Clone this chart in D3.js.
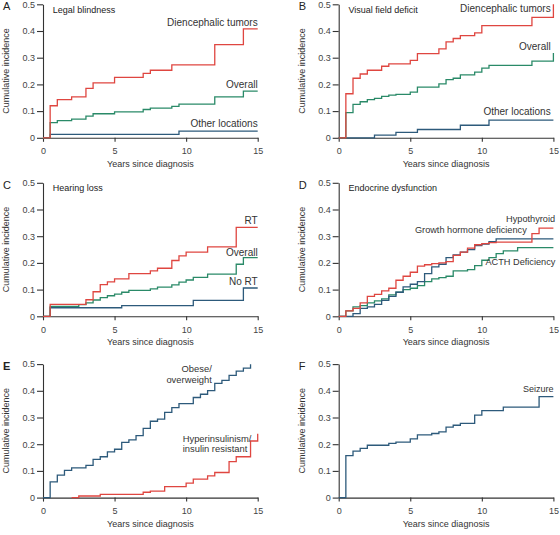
<!DOCTYPE html>
<html>
<head>
<meta charset="utf-8">
<script src="https://cdn.jsdelivr.net/npm/d3@7"></script>
<style>
  html, body { margin: 0; padding: 0; background: #fff; }
  svg { display: block; font-family: "Liberation Sans", Arial, sans-serif; }
</style>
</head>
<body>
<svg id="chart" width="560" height="535"></svg>
<script>
// ---------------- DATA (years since diagnosis, cumulative incidence) ----------------
const xTicks = [0, 5, 10, 15];
const yTicks = [0, 0.1, 0.2, 0.3, 0.4, 0.5];
const yTickLabels = ["0", "0.1", "0.2", "0.3", "0.4", "0.5"];
const panelLetters = ["A", "B", "C", "D", "E", "F"];
const panelTitles = ["Legal blindness", "Visual field deficit", "Hearing loss", "Endocrine dysfunction", "", ""];

// A: Legal blindness
const legalDien = [[0,0],[0.5,0.12],[1,0.143],[2,0.153],[3,0.185],[3.5,0.206],[5,0.226],[7,0.241],[7.5,0.253],[9,0.273],[12,0.349],[14,0.408],[15,0.408]];
const legalOverall = [[0,0],[0.5,0.057],[1,0.064],[2,0.07],[3,0.081],[3.5,0.09],[5,0.097],[7,0.106],[7.5,0.111],[9,0.118],[9.5,0.126],[12,0.153],[14,0.175],[15,0.175]];
const legalOther = [[0,0],[0.5,0.0125],[9.5,0.025],[15,0.025]];

// B: Visual field deficit
const visualDien = [[0,0],[0.5,0.165],[1,0.223],[1.5,0.239],[2,0.253],[3,0.268],[3.5,0.277],[5,0.29],[5.5,0.315],[7,0.333],[7.5,0.359],[8,0.372],[8.5,0.383],[9.5,0.393],[10,0.42],[13.5,0.451],[15,0.5]];
const visualOverall = [[0,0],[0.5,0.094],[1,0.125],[1.5,0.135],[2,0.143],[2.5,0.148],[3,0.155],[3.5,0.16],[4,0.163],[5,0.171],[5.5,0.19],[7,0.202],[7.5,0.218],[8,0.223],[8.5,0.236],[9.5,0.246],[10,0.261],[10.5,0.271],[13.5,0.287],[15,0.318]];
const visualOther = [[0,0],[2.5,0.01],[4,0.02],[5.5,0.031],[8.5,0.047],[10.5,0.066],[15,0.066]];

// C: Hearing loss
const hearingRT = [[0,0],[0.5,0.045],[3,0.062],[3.5,0.092],[4,0.119],[4.5,0.129],[5,0.14],[6,0.16],[7.5,0.17],[8,0.18],[9,0.209],[9.5,0.226],[10,0.24],[11.5,0.26],[13.5,0.333],[15,0.333]];
const hearingOverall = [[0,0],[0.5,0.037],[2.5,0.044],[3,0.05],[3.5,0.061],[4,0.07],[4.5,0.077],[5,0.083],[5.5,0.09],[6,0.097],[7.5,0.103],[8,0.109],[9,0.118],[9.5,0.128],[10,0.136],[10.5,0.146],[11.5,0.158],[13.5,0.195],[14,0.22],[15,0.22]];
const hearingNoRT = [[0,0],[0.5,0.032],[5.5,0.04],[10.5,0.06],[14,0.106],[15,0.106]];

// D: Endocrine dysfunction
const endoHypo = [[0,0],[0.5,0.02],[1,0.03],[1.5,0.05],[2,0.075],[2.5,0.082],[3,0.095],[3.5,0.105],[4,0.135],[4.5,0.15],[5,0.165],[5.5,0.188],[6,0.193],[6.5,0.197],[7,0.2],[7.5,0.205],[8,0.228],[8.5,0.24],[9,0.255],[9.5,0.268],[10,0.272],[10.5,0.276],[11,0.278],[13.5,0.31],[14,0.33],[15,0.33]];
const endoGH = [[0,0],[1,0.01],[1.5,0.03],[2,0.035],[2.5,0.045],[3,0.06],[3.5,0.075],[4,0.09],[4.5,0.11],[5,0.12],[5.5,0.13],[6,0.16],[6.5,0.185],[7,0.195],[7.5,0.22],[8,0.23],[8.5,0.24],[9,0.25],[9.5,0.265],[10,0.27],[10.5,0.28],[11,0.29],[15,0.29]];
const endoACTH = [[0,0],[0.5,0.02],[1,0.035],[1.5,0.04],[2,0.05],[2.5,0.058],[3,0.065],[3.5,0.08],[4,0.09],[4.5,0.1],[5,0.105],[5.5,0.115],[6,0.13],[6.5,0.14],[7,0.145],[7.5,0.15],[8,0.17],[9,0.175],[9.5,0.19],[10,0.21],[10.5,0.22],[11,0.235],[11.5,0.245],[12.5,0.257],[15,0.257]];

// E: Obesity / hyperinsulinism
const obese = [[0,0],[0.5,0.059],[1,0.084],[1.5,0.102],[2,0.111],[3,0.121],[3.5,0.143],[4,0.153],[4.5,0.171],[5,0.181],[5.5,0.207],[6,0.216],[6.5,0.232],[7,0.259],[7.5,0.286],[8,0.294],[8.5,0.319],[9,0.337],[9.5,0.352],[10.5,0.375],[11,0.387],[11.5,0.401],[12,0.428],[12.5,0.439],[13,0.458],[13.5,0.474],[14,0.485],[14.5,0.499]];
const hyperins = [[2,0],[2.5,0.006],[4,0.012],[7,0.02],[7.5,0.024],[8.5,0.041],[10,0.054],[10.5,0.069],[11.5,0.081],[12,0.094],[13,0.135],[13.5,0.153],[14.5,0.212],[15,0.239]];

// F: Seizure
const seizure = [[0,0],[0.5,0.157],[1,0.174],[1.5,0.184],[2,0.196],[3.5,0.203],[4,0.208],[5,0.22],[5.5,0.235],[6.5,0.24],[7,0.246],[7.5,0.264],[8,0.271],[8.5,0.278],[9.5,0.309],[10,0.326],[11.5,0.339],[14,0.378],[15,0.378]];

// ---------------- STYLE / LAYOUT ----------------
const RED = "#df4640", GREEN = "#2a8a68", BLUE = "#2d5a7b", INK = "#333";
const colX = [43, 338.7], rowY = [4.3, 182.8, 364.1];
const plotW = 214.7, plotH = 133.5;

const panels = [
  { col:0, row:0, series:[[legalOther,BLUE],[legalOverall,GREEN],[legalDien,RED]], fs:10,
    labels:[{t:"Diencephalic tumors",x:15,y:0.419,a:"end"},{t:"Overall",x:15,y:0.187,a:"end"},{t:"Other locations",x:15,y:0.041,a:"end"}] },
  { col:1, row:0, series:[[visualOther,BLUE],[visualOverall,GREEN],[visualDien,RED]], fs:10,
    labels:[{t:"Diencephalic tumors",x:14.81,y:0.47,a:"end"},{t:"Overall",x:14.81,y:0.33,a:"end"},{t:"Other locations",x:14.81,y:0.087,a:"end"}] },
  { col:0, row:1, series:[[hearingNoRT,BLUE],[hearingOverall,GREEN],[hearingRT,RED]], fs:10,
    labels:[{t:"RT",x:15,y:0.347,a:"end"},{t:"Overall",x:15,y:0.227,a:"end"},{t:"No RT",x:15,y:0.119,a:"end"}] },
  { col:1, row:1, series:[[endoACTH,GREEN],[endoGH,BLUE],[endoHypo,RED]], fs:9.2,
    labels:[{t:"Hypothyroid",x:15.12,y:0.352,a:"end"},{t:"Growth hormone deficiency",x:13.14,y:0.311,a:"end"},{t:"ACTH Deficiency",x:15.14,y:0.193,a:"end"}] },
  { col:0, row:2, series:[[hyperins,RED],[obese,BLUE]], fs:9.4, bold:true,
    labels:[{t:"Obese/",x:11.79,y:0.471,a:"end"},{t:"overweight",x:11.79,y:0.43,a:"end"},{t:"Hyperinsulinism/",x:9.76,y:0.207,a:"start"},{t:"insulin resistant",x:9.76,y:0.17,a:"start"}] },
  { col:1, row:2, series:[[seizure,BLUE]], fs:9,
    labels:[{t:"Seizure",x:15,y:0.397,a:"end"}] }
];

const svg = d3.select("#chart");

panels.forEach((p, i) => {
  const x0 = colX[p.col], y0 = rowY[p.row];
  const x = d3.scaleLinear().domain([0, 15]).range([x0, x0 + plotW]);
  const y = d3.scaleLinear().domain([0, 0.5]).range([y0 + plotH, y0]);
  const g = svg.append("g");

  // axes
  const ya = g.append("g").attr("transform", `translate(${x0},0)`)
    .call(d3.axisLeft(y).tickValues(yTicks).tickFormat((d, k) => yTickLabels[k]).tickSize(6).tickSizeOuter(0).tickPadding(2));
  const xa = g.append("g").attr("transform", `translate(0,${y0 + plotH})`)
    .call(d3.axisBottom(x).tickValues(xTicks).tickSize(4).tickSizeOuter(0).tickPadding(6));
  [ya, xa].forEach(a => {
    a.selectAll("path, line").attr("stroke", INK).attr("stroke-width", 1.1);
    a.selectAll("text").attr("fill", "#444").attr("font-size", 9).attr("font-family", "Liberation Sans, Arial, sans-serif");
  });

  // lines
  const line = d3.line().x(d => x(d[0])).y(d => y(d[1])).curve(d3.curveStepAfter);
  p.series.forEach(([data, color]) => {
    g.append("path").datum(data).attr("d", line)
      .attr("fill", "none").attr("stroke", color).attr("stroke-width", 1.3);
  });

  // axis titles
  g.append("text").attr("x", x0 + plotW / 2).attr("y", y0 + plotH + 29)
    .attr("text-anchor", "middle").attr("font-size", 9).attr("fill", "#333").text("Years since diagnosis");
  g.append("text").attr("transform", `translate(${x0 - 34},${y0 + plotH / 2}) rotate(-90)`)
    .attr("text-anchor", "middle").attr("font-size", 9).attr("fill", "#333").text("Cumulative incidence");

  // panel letter and title
  g.append("text").attr("x", x0 - 40).attr("y", y0 + 6).attr("font-size", 11)
    .attr("font-weight", p.bold ? "bold" : "normal").attr("fill", "#222").text(panelLetters[i]);
  if (panelTitles[i]) {
    g.append("text").attr("x", x0 + 9.7).attr("y", y0 + 8.5).attr("font-size", 9)
      .attr("fill", "#222").text(panelTitles[i]);
  }

  // curve labels
  p.labels.forEach(l => {
    g.append("text").attr("x", x(l.x)).attr("y", y(l.y)).attr("text-anchor", l.a)
      .attr("font-size", p.fs).attr("fill", "#333").text(l.t);
  });
});
</script>
</body>
</html>
